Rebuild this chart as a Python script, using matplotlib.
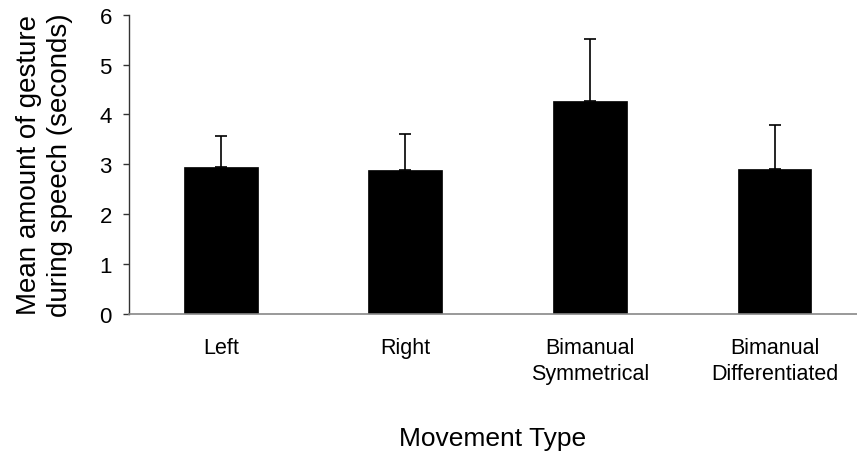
import numpy as np
import matplotlib.pyplot as plt

plt.rcParams['font.family'] = ['Liberation Sans', 'DejaVu Sans']

CATEGORIES = ["Left", "Right", "Bimanual\nSymmetrical", "Bimanual\nDifferentiated"]
MEANS = [2.95, 2.89, 4.26, 2.90]
SD_UPPER = [0.62, 0.72, 1.25, 0.89]
Y_TICKS = [0, 1, 2, 3, 4, 5, 6]


def plot_means():
    """Bar chart of mean gesture time per movement type with upper error bars."""
    fig = plt.figure(figsize=(8.57, 4.52), dpi=100)
    ax = fig.add_axes([0.150, 0.304, 0.850, 0.661])

    x = np.arange(len(CATEGORIES))
    ax.bar(x, MEANS, width=0.4, color='black', edgecolor='black', linewidth=0.5, zorder=2)
    ax.errorbar(x, MEANS, yerr=[np.zeros(len(MEANS)), SD_UPPER], fmt='none',
                ecolor='black', elinewidth=1.2, capsize=4.3, capthick=1.2, zorder=3)

    ax.set_xlim(-0.5, 3.447)
    ax.set_ylim(0, 6)
    ax.set_yticks(Y_TICKS)
    ax.set_yticklabels([str(t) for t in Y_TICKS], fontsize=16)
    ax.set_xticks(x)
    ax.set_xticklabels(CATEGORIES, fontsize=15.5, linespacing=1.3)

    ax.tick_params(axis='y', direction='out', length=4, width=1, color='#333333', pad=8)
    ax.tick_params(axis='x', length=0, pad=17)

    for side in ('top', 'right'):
        ax.spines[side].set_visible(False)
    ax.spines['left'].set_color('#333333')
    ax.spines['left'].set_linewidth(1.0)
    ax.spines['bottom'].set_color('#888888')
    ax.spines['bottom'].set_linewidth(1.2)

    ax.set_xlabel("Movement Type", fontsize=19, labelpad=30)
    ax.set_ylabel("Mean amount of gesture\nduring speech (seconds)", fontsize=20,
                  labelpad=19, linespacing=1.25)

    fig.savefig("out.png", dpi=100)


if __name__ == "__main__":
    plot_means()
